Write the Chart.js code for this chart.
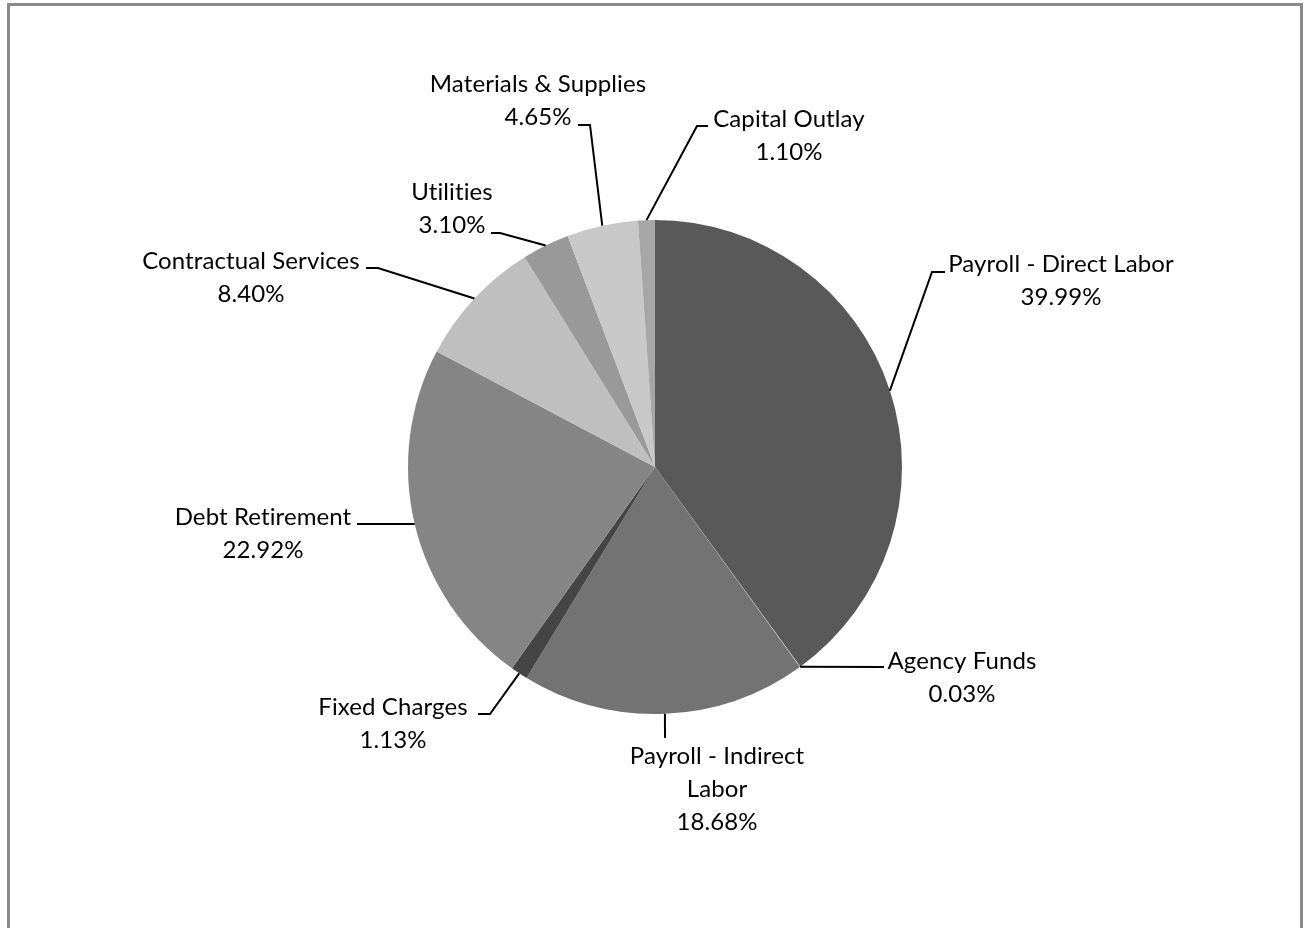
<!DOCTYPE html>
<html>
<head>
<meta charset="utf-8">
<script src="https://cdn.jsdelivr.net/npm/chart.js@4.4.0/dist/chart.umd.min.js"></script>
<style>
  html, body { margin: 0; padding: 0; background: #fff; overflow: hidden; }
  .frame { position: absolute; left: 7px; top: 3px; width: 1296px; height: 960px; border: 3px solid #8a8a8a; box-sizing: border-box; }
  .wrap { position: absolute; left: 0; top: 0; width: 1306px; height: 928px; }
</style>
</head>
<body>
<div class="frame"></div>
<div class="wrap"><canvas id="expenseChart" width="1306" height="928"></canvas></div>
<script>
// Datos
const categories = ['Payroll - Direct Labor', 'Agency Funds', 'Payroll - Indirect Labor', 'Fixed Charges',
    'Debt Retirement', 'Contractual Services', 'Utilities', 'Materials & Supplies', 'Capital Outlay'];
const shares = [39.99, 0.03, 18.68, 1.13, 22.92, 8.40, 3.10, 4.65, 1.10];
const sliceColors = ['#595959', '#d9d9d9', '#737373', '#454545', '#858585', '#bfbfbf', '#999999', '#c8c8c8', '#a6a6a6'];

// Posición de etiquetas (centro del bloque, primera línea) y codo de la línea guía
const labelLines = [
    ['Payroll - Direct Labor'], ['Agency Funds'], ['Payroll - Indirect', 'Labor'], ['Fixed Charges'],
    ['Debt Retirement'], ['Contractual Services'], ['Utilities'], ['Materials & Supplies'], ['Capital Outlay']
];
const labelLayout = [
    { cx: 1061, cy: 264, elbow: [932, 272], end: [945, 272] },
    { cx: 962, cy: 661, elbow: null, end: [884, 667] },
    { cx: 717, cy: 756, elbow: null, end: [665, 738] },
    { cx: 393, cy: 707, elbow: [490, 714], end: [478, 714] },
    { cx: 263, cy: 517, elbow: null, end: [357, 524] },
    { cx: 251, cy: 261, elbow: [378, 268], end: [366, 268] },
    { cx: 452, cy: 192, elbow: [500, 233], end: [491, 233] },
    { cx: 538, cy: 84, elbow: [590, 125], end: [578, 125] },
    { cx: 789, cy: 119, elbow: [697, 126], end: [708, 126] }
];

const LINE_H = 33;

const leaderLabels = {
    id: 'leaderLabels',
    afterDatasetsDraw(chart) {
        const ctx = chart.ctx;
        const meta = chart.getDatasetMeta(0);
        ctx.save();
        meta.data.forEach((arc, i) => {
            const p = arc.getProps(['x', 'y', 'startAngle', 'endAngle', 'outerRadius'], true);
            const mid = (p.startAngle + p.endAngle) / 2;
            const sx = p.x + Math.cos(mid) * p.outerRadius;
            const sy = p.y + Math.sin(mid) * p.outerRadius;
            const lay = labelLayout[i];

            ctx.strokeStyle = '#000';
            ctx.lineWidth = 2;
            ctx.beginPath();
            ctx.moveTo(sx, sy);
            if (lay.elbow) ctx.lineTo(lay.elbow[0], lay.elbow[1]);
            ctx.lineTo(lay.end[0], lay.end[1]);
            ctx.stroke();

            const lines = labelLines[i].concat([shares[i].toFixed(2) + '%']);
            ctx.fillStyle = '#000';
            ctx.font = '24px Lato';
            if ('letterSpacing' in ctx) ctx.letterSpacing = '0.1px';
            ctx.textAlign = 'center';
            ctx.textBaseline = 'middle';
            lines.forEach((t, k) => ctx.fillText(t, lay.cx, lay.cy + k * LINE_H));
        });
        ctx.restore();
    }
};

new Chart(document.getElementById('expenseChart'), {
    type: 'pie',
    data: {
        labels: categories,
        datasets: [{
            data: shares,
            backgroundColor: sliceColors,
            borderWidth: 0
        }]
    },
    options: {
        responsive: false,
        animation: false,
        layout: { padding: { left: 408, right: 404, top: 220, bottom: 214 } },
        plugins: {
            legend: { display: false },
            tooltip: { enabled: false }
        }
    },
    plugins: [leaderLabels]
});
</script>
</body>
</html>
